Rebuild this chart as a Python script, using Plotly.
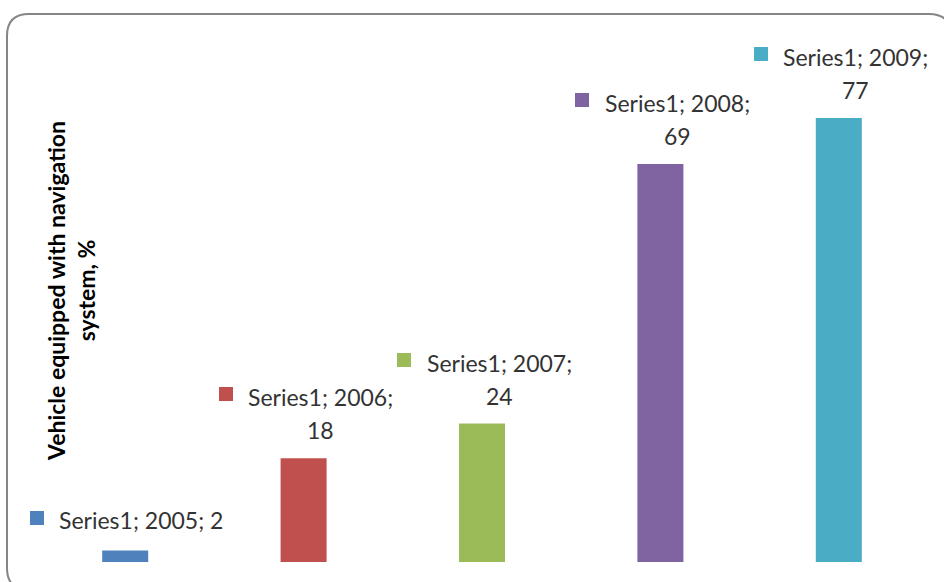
import plotly.graph_objects as go

years = ["2005", "2006", "2007", "2008", "2009"]
values = [2, 18, 24, 69, 77]
series_name = "Series1"
colors = ["#4F81BD", "#C0504D", "#9BBB59", "#8064A2", "#4BACC6"]
y_title = "Vehicle equipped with navigation<br>system, %"

W, H = 944, 582
ML, MR, MT, MB = 36, 16, 43, 20
PW, PH = W - ML - MR, H - MT - MB
FONT = "Lato"
FS = 23
TXT = "#333333"

fig = go.Figure()
fig.add_trace(go.Bar(
    x=years, y=values, marker=dict(color=colors, line=dict(width=0)),
    showlegend=False, hoverinfo="skip",
))

annotations = []
for i, (yr, v, c) in enumerate(zip(years, values, colors)):
    if v < 5:
        annotations.append(dict(x=i, y=v, xref="x", yref="y", text=f"{series_name}; {yr}; {v}",
                                showarrow=False, xanchor="center", yanchor="middle",
                                xshift=16, yshift=30, font=dict(family=FONT, size=FS, color=TXT)))
        sq_shift = -88
        sq_y = 32
    else:
        annotations.append(dict(x=i, y=v, xref="x", yref="y", text=f"{series_name}; {yr};",
                                showarrow=False, xanchor="center", yanchor="middle",
                                xshift=17, yshift=61, font=dict(family=FONT, size=FS, color=TXT)))
        annotations.append(dict(x=i, y=v, xref="x", yref="y", text=f"{v}",
                                showarrow=False, xanchor="center", yanchor="middle",
                                xshift=17, yshift=28, font=dict(family=FONT, size=FS, color=TXT)))
        sq_shift = -78
        sq_y = 64
    annotations.append(dict(x=i, y=v, xref="x", yref="y", text=" ", showarrow=False,
                            xanchor="center", yanchor="middle", xshift=sq_shift, yshift=sq_y,
                            width=14, height=14, bgcolor=c, borderpad=0, borderwidth=0,
                            font=dict(size=6)))

# y-axis title
annotations.append(dict(x=(71 - ML) / PW, y=(H - MB - 291) / PH, xref="paper", yref="paper",
                        text=y_title, textangle=-90, showarrow=False,
                        xanchor="center", yanchor="middle",
                        font=dict(family=FONT, size=23, color="#000000", weight="bold")))

def px(xp, yp):
    return (xp - ML) / PW, (H - MB - yp) / PH

def pt(xp, yp):
    a, b = px(xp, yp)
    return f"{a:.5f},{b:.5f}"

L, T, R, B, r = 7, 14, 951, 590, 22
path = (f"M {pt(L + r, T)} L {pt(R - r, T)} Q {pt(R, T)} {pt(R, T + r)} "
        f"L {pt(R, B - r)} Q {pt(R, B)} {pt(R - r, B)} L {pt(L + r, B)} "
        f"Q {pt(L, B)} {pt(L, B - r)} L {pt(L, T + r)} Q {pt(L, T)} {pt(L + r, T)} Z")

fig.update_layout(
    width=W, height=H,
    margin=dict(l=ML, r=MR, t=MT, b=MB),
    paper_bgcolor="white", plot_bgcolor="white",
    bargap=0.742,
    xaxis=dict(type="category", range=[-0.5, 4.5], visible=False),
    yaxis=dict(range=[0, 90], visible=False),
    annotations=annotations,
    shapes=[dict(type="path", path=path, xref="paper", yref="paper",
                 line=dict(color="#868686", width=2), fillcolor="rgba(0,0,0,0)", layer="above")],
)

fig.write_html("out.html", config={"displayModeBar": False},
               post_script="document.body.style.margin='0';document.body.style.overflow='hidden';")
